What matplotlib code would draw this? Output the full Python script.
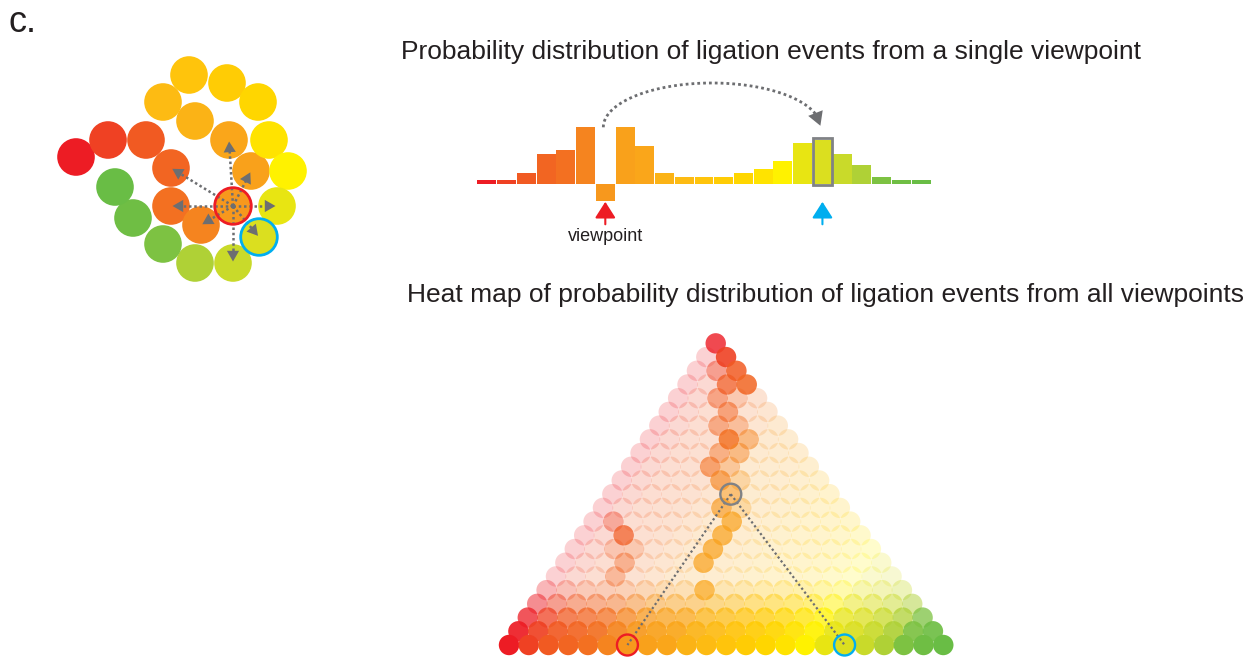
import numpy as np
import matplotlib.pyplot as plt
from matplotlib.patches import Circle, Rectangle

W, H = 1256, 657
plt.rcParams['font.family'] = ['Liberation Sans', 'DejaVu Sans']

TEXT = '#231f20'
GREY = '#6d6e71'
RED = '#ed1c24'
BLUE = '#00aeef'

# one colour per genomic bin, from one end of the fibre to the other
bin_colors = ['#ed1c24', '#ef4123', '#f15a22', '#f26522', '#f37021', '#f5841f',
              '#f7981d', '#f9a11b', '#faa61a', '#fbb316', '#fdbb13', '#ffc40c',
              '#ffcc05', '#ffd600', '#ffe300', '#fff200', '#e8e512', '#dbdf1f',
              '#c9da2a', '#afd136', '#7dc242', '#6fbe44', '#69bd45']

# 2D projection of the bead chain (one bead per bin)
bead_x = [76, 108, 146, 171, 171, 201, 233, 251, 229, 195, 163, 189,
          227, 258, 269, 288, 277, 259, 233, 195, 163, 133, 115]
bead_y = [157, 140, 140, 168, 206, 225, 206, 171, 140, 121, 102, 75,
          83, 102, 140, 171, 206, 237, 263, 263, 244, 218, 187]

viewpoint = 6
partner = 17
# beads in contact with the viewpoint
contacts = [3, 4, 5, 7, 8, 16, 17, 18]

# ligation frequency of every bin seen from the viewpoint
ligation_freq = [4.3, 4.3, 11.3, 30.3, 34.3, 57.3, 16.3, 57.3, 38.3, 11.3, 7.3, 7.3,
                 7.3, 11.3, 15.3, 23.3, 41.3, 44.0, 30.3, 19.3, 7.3, 4.3, 4.3]

# heat map intensity by distance from the diagonal, then for everything further away
diag_alpha = [1.0, 0.92, 0.75, 0.5, 0.32]
far_alpha = 0.2
# enriched pairs (i, j, intensity)
hot_cells = [(0, 22, 0.8), (1, 22, 0.9), (1, 21, 0.5), (2, 22, 0.85), (2, 21, 0.75),
             (3, 22, 0.85), (2, 20, 0.55), (3, 21, 0.35), (3, 20, 0.6), (3, 19, 0.55),
             (4, 20, 0.45), (4, 19, 0.85), (5, 20, 0.55), (4, 18, 0.55), (5, 19, 0.55),
             (4, 17, 0.65), (5, 18, 0.45), (5, 17, 0.7), (6, 18, 0.4), (6, 17, 0.6),
             (6, 16, 0.7), (7, 17, 0.4), (7, 16, 0.75), (7, 15, 0.75), (7, 14, 0.75),
             (7, 13, 0.75), (8, 12, 0.75),
             (1, 10, 0.45), (2, 10, 0.75), (2, 9, 0.35), (3, 10, 0.35), (3, 9, 0.5),
             (3, 8, 0.45)]


def px_axes(fig, x0, y0, x1, y1):
    """Axes placed by pixel box (top-left origin)."""
    ax = fig.add_axes([x0 / W, 1 - y1 / H, (x1 - x0) / W, (y1 - y0) / H])
    ax.set_axis_off()
    return ax


def arrow_head(ax, tip, tail, color, size, style="-|>,head_length=0.7,head_width=0.4"):
    ax.annotate("", xy=tip, xytext=tail,
                arrowprops=dict(arrowstyle=style, color=color, lw=0,
                                mutation_scale=size, shrinkA=0, shrinkB=0))


def to_rgba(hex_color, alpha):
    h = hex_color.lstrip('#')
    return (int(h[0:2], 16) / 255, int(h[2:4], 16) / 255, int(h[4:6], 16) / 255, alpha)


fig = plt.figure(figsize=(W / 100, H / 100), dpi=100)
fig.patch.set_facecolor('white')

# --- bead chain ---
ax_b = px_axes(fig, 0, 0, 330, 310)
ax_b.set_xlim(0, 330)
ax_b.set_ylim(310, 0)
for k, (x, y) in enumerate(zip(bead_x, bead_y)):
    ax_b.add_patch(Circle((x, y), 18.8, fc=bin_colors[k], ec='none', zorder=1))

p0 = np.array([bead_x[viewpoint], bead_y[viewpoint]], float)
for n in contacts:
    p1 = np.array([bead_x[n], bead_y[n]], float)
    u = (p1 - p0) / np.hypot(*(p1 - p0))
    tip = p1 - 1.5 * u
    base = tip - 7.5 * u
    ax_b.plot([p0[0], base[0]], [p0[1], base[1]], color=GREY, lw=1.8,
              ls=(0, (1, 1.1)), zorder=3)
    arrow_head(ax_b, tip, base, GREY, 11)

ax_b.add_patch(Circle(p0, 18.3, fill=False, ec=RED, lw=2, zorder=4))
ax_b.add_patch(Circle((bead_x[partner], bead_y[partner]), 18.3, fill=False,
                      ec=BLUE, lw=2, zorder=4))

# --- single viewpoint profile ---
ax_p = px_axes(fig, 477, 54.3, 931, 244.3)
ax_p.set_xlim(-0.5, 22.5)
ax_p.set_ylim(-60, 130)
heights = np.array(ligation_freq)
heights[viewpoint] = -heights[viewpoint]
ax_p.bar(np.arange(len(heights)), heights, width=0.96, color=bin_colors, linewidth=0)
ax_p.add_patch(Rectangle((partner - 0.5, -0.7), 1.0, ligation_freq[partner] + 2.6,
                         fill=False, ec='#808285', lw=2))

for idx, col in [(viewpoint, RED), (partner, BLUE)]:
    ax_p.annotate("", xy=(idx, -17.5), xytext=(idx, -40),
                  arrowprops=dict(arrowstyle="-|>,head_length=0.55,head_width=0.35",
                                  color=col, lw=1.5, mutation_scale=18,
                                  shrinkA=0, shrinkB=0))
ax_p.text(viewpoint, -57, "viewpoint", ha='center', va='baseline',
          fontsize=13, color=TEXT)

# dotted jump from the viewpoint to its distant partner
cx, a, cy, b = 11.4, 5.5, 57, 44.3
th = np.radians(np.linspace(180, 16, 120))
ax_p.plot(cx + a * np.cos(th), cy + b * np.sin(th), color=GREY, lw=2,
          ls=(0, (1, 1.1)))
t_tail, t_tip = np.radians(16), np.radians(2)
arrow_head(ax_p, (cx + a * np.cos(t_tip), cy + b * np.sin(t_tip)),
           (cx + a * np.cos(t_tail), cy + b * np.sin(t_tail)), GREY, 14)

# --- triangular heat map ---
n = len(bin_colors)
skew = 0.024
ax_t = px_axes(fig, 509 - 19.74, 645 - 23 * 13.71, 509 + 23 * 19.74, 645 + 13.71)
ax_t.set_xlim(-1, 23)
ax_t.set_ylim(-1, 23)


def cell_xy(i, j):
    return (i + j) / 2 - skew * (j - i), j - i


hot = {(i, j): a for i, j, a in hot_cells}
xs, ys, cols = [], [], []
for d in range(n - 1, -1, -1):
    for i in range(n - d):
        j = i + d
        if (i, j) in hot:
            continue
        alpha = diag_alpha[d] if d < len(diag_alpha) else far_alpha
        x, y = cell_xy(i, j)
        xs.append(x)
        ys.append(y)
        cols.append(to_rgba(bin_colors[i], alpha))
for (i, j), alpha in hot.items():
    x, y = cell_xy(i, j)
    xs.append(x)
    ys.append(y)
    cols.append(to_rgba(bin_colors[i], alpha))
ax_t.scatter(xs, ys, s=216, c=cols, linewidths=0, zorder=1)

gx, gy = cell_xy(viewpoint, partner)
for i in (viewpoint, partner):
    x, y = cell_xy(i, i)
    ax_t.plot([gx, x], [gy, y], color=GREY, lw=1.6, ls=(0, (1, 1.2)), zorder=2)
for (i, j), col in [((viewpoint, viewpoint), RED), ((partner, partner), BLUE),
                    ((viewpoint, partner), '#808285')]:
    x, y = cell_xy(i, j)
    ax_t.scatter([x], [y], s=228, facecolors='none', edgecolors=col,
                 linewidths=1.7, zorder=3)

# --- text ---
fig.text(8 / W, 1 - 32 / H, "c.", fontsize=26, color=TEXT, ha='left', va='baseline')
fig.text(771 / W, 1 - 58.7 / H,
         "Probability distribution of ligation events from a single viewpoint",
         fontsize=19, color=TEXT, ha='center', va='baseline')
fig.text(825.5 / W, 1 - 302 / H,
         "Heat map of probability distribution of ligation events from all viewpoints",
         fontsize=19, color=TEXT, ha='center', va='baseline')

fig.savefig('out.png', dpi=100)
